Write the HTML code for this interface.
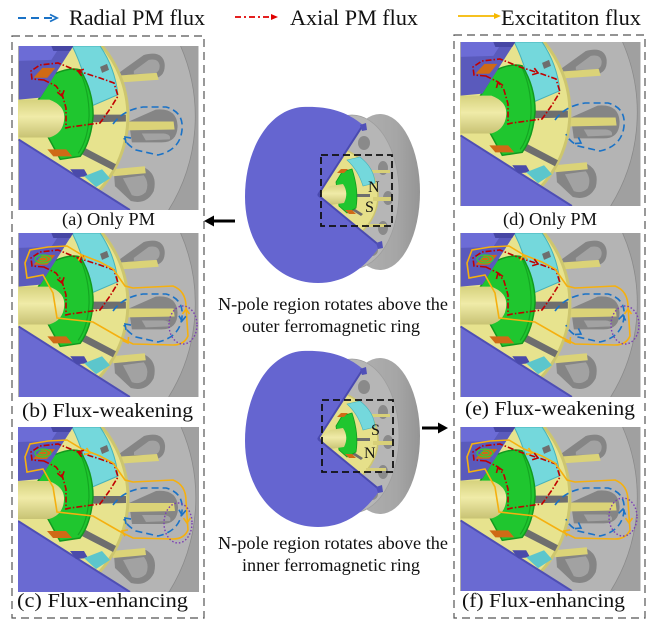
<!DOCTYPE html>
<html><head><meta charset="utf-8"><style>
html,body{margin:0;padding:0;background:#fff;}
svg{display:block;}
text{font-family:"Liberation Serif",serif;fill:#111;}
</style></head><body>
<svg width="652" height="624" viewBox="0 0 652 624" xmlns="http://www.w3.org/2000/svg" xmlns:xlink="http://www.w3.org/1999/xlink">
<defs>
<linearGradient id="shaftG" x1="0" y1="0" x2="0" y2="1">
 <stop offset="0" stop-color="#d6d27e"/><stop offset="0.45" stop-color="#f0eba8"/><stop offset="1" stop-color="#c8c374"/>
</linearGradient>
<linearGradient id="rimG" x1="0" y1="0" x2="1" y2="0">
 <stop offset="0" stop-color="#b4b4b4"/><stop offset="0.7" stop-color="#a6a6a6"/><stop offset="1" stop-color="#959595"/>
</linearGradient>
<symbol id="pnl" viewBox="0 0 181 165">
 <rect width="181" height="165" fill="#b4b4b4"/>
 <path d="M163,0 A178,178 0 0 1 151,165 L181,165 L181,0Z" fill="#a0a0a0"/>
 <path d="M163,0 A178,178 0 0 1 151,165" fill="none" stroke="#8a8a8a" stroke-width="0.8"/>
 <path d="M101,27 L126,9 Q145,4 147,18 Q148,32 134,33 L102,33Z" fill="#858585"/>
 <path d="M116,25 L131,14 Q141,12 142,20 Q142,28 133,28 L116,28Z" fill="#a2a2a2"/>
 <path d="M111,76 L138,64 Q159,62 160,80 Q160,97 144,97 L114,97Z" fill="#858585"/>
 <path d="M124,88 L146,88 Q154,89 152,94 L128,95Z" fill="#a2a2a2"/>
 <path d="M96,128 L128,123 Q140,130 136,146 Q129,160 113,156 L97,141Z" fill="#858585"/>
 <path d="M105,133 L126,130 Q132,138 128,147 Q122,153 114,150Z" fill="#a2a2a2"/>
 <polygon points="96,30 139,27 141,34 97,37" fill="#dbd378"/>
 <polygon points="106,76 156,76 157,84 106,85" fill="#dbd378"/>
 <polygon points="94,124 127,121 128,128 95,131" fill="#dbd378"/>
 <circle cx="0" cy="71" r="110" fill="#e7e38e" stroke="#cdc66e" stroke-width="3"/>
 <path d="M54,0 L82,0 Q97,22 100,49 L72,61 Q68,28 54,0Z" fill="#74d8dc" stroke="#46b2ba" stroke-width="1"/>
 <polygon points="64,69 108,69 108,76 64,77" fill="#6e6e6e"/>
 <polygon points="62,100 98,119 95,125 58,106" fill="#6e6e6e"/>
 <polygon points="54,42 62,37 65,42 57,47" fill="#6e6e6e"/>
 <polygon points="82,21 89,18 91,24 84,27" fill="#6e6e6e"/>
 <path d="M20,54 L36,28 Q52,21 62,24 Q75,45 75,70 Q73,96 62,111 L42,114 L30,92Z" fill="#1fc62f" stroke="#129a1e" stroke-width="1.5"/>
 <path d="M62,26 Q71,46 71,70 Q70,94 60,108" fill="none" stroke="#14a622" stroke-width="1.2"/>
 <path d="M0,54 L31,54 Q47,60 46,73 Q45,88 31,92 L0,92Z" fill="url(#shaftG)"/>
 <polygon points="0,0 55,0 22,52 0,54" fill="#5a5abc"/>
 <polygon points="0,0 42,0 33,14 0,15" fill="#6c6cd6"/>
 <polygon points="33,0 55,0 52,5 35,5" fill="#4646a4"/>
 <polygon points="0,94 112,165 0,165" fill="#6a6ad2"/>
 <path d="M0,94 L112,165" stroke="#4e4eb4" stroke-width="2"/>
 <polygon points="52,124 66,124 70,131 58,132" fill="#4a4aaa"/>
 <polygon points="66,131 84,124 92,133 78,142" fill="#5cc6cc"/>
 <polygon points="15,32 24,22 37,22 29,32" fill="#cf6a16"/>
 <polygon points="29,104 48,104 54,111 35,111" fill="#cf6a16"/>
</symbol>
<g id="rb">
 <path d="M26,34 L14,33 L13,25 L22,19 L40,17 L60,25 L82,32 L96,37 L100,50 L92,63 L82,77 L52,81 L48,82 L48,62 L44,48 L38,40 Z" fill="none" stroke="#c00000" stroke-width="1.6" stroke-dasharray="6,2,1.5,2"/>
 <path d="M95,78 Q105,64 125,61 L148,61 Q166,66 164,84 Q162,104 140,109 L118,104 Q108,98 106,92" fill="none" stroke="#1a72c6" stroke-width="1.6" stroke-dasharray="7,4"/>
</g>
<g id="or">
 <path d="M9,45 L7,30 L12,17 L30,14 L49,13 L64,22 L82,29 L95,36 L107,53 L115,55 L155,53 Q168,58 168,74 L170,103 Q166,112 155,112 L115,111 L101,104 L75,89 L39,85 L35,60 L25,42 Z" fill="none" stroke="#f5b00f" stroke-width="1.6"/>
 <ellipse cx="25" cy="26" rx="8" ry="4" fill="none" stroke="#2ccf3a" stroke-width="1.2"/>
 <ellipse cx="25" cy="26" rx="4" ry="2" fill="none" stroke="#2ccf3a" stroke-width="1"/>
</g>
<g id="motor">
 <ellipse cx="380" cy="192" rx="40" ry="78" fill="url(#rimG)"/>
 <ellipse cx="352" cy="192" rx="47" ry="77" fill="#b6b6b6" stroke="#9e9e9e" stroke-width="0.8"/>
 <ellipse cx="364" cy="143" rx="6" ry="7" fill="#8a8a8a"/>
 <ellipse cx="383" cy="168" rx="5" ry="7" fill="#8a8a8a"/>
 <ellipse cx="388" cy="198" rx="5" ry="7" fill="#8a8a8a"/>
 <ellipse cx="383" cy="228" rx="5" ry="7" fill="#8a8a8a"/>
 <ellipse cx="372" cy="250" rx="6" ry="6" fill="#8a8a8a"/>
 <ellipse cx="318" cy="196" rx="60" ry="52" fill="#e6e08a" stroke="#cdc66e" stroke-width="1.5"/>
 <rect x="370" y="170" width="20" height="3" fill="#d8d078"/>
 <rect x="373" y="197" width="20" height="4" fill="#d8d078"/>
 <rect x="366" y="224" width="20" height="3" fill="#d8d078"/>
 <path d="M347,160 L360,157 Q374,168 375,183 L363,186 Q358,170 347,160Z" fill="#74d8dc" stroke="#46b2ba" stroke-width="0.6"/>
 <polygon points="356,194 370,194 370,197 356,197" fill="#6e6e6e"/>
 <polygon points="352,207 363,214 361,216 350,209" fill="#6e6e6e"/>
 <path d="M336,182 L342,172 L352,169 Q359,190 356,208 L347,213 L339,206Z" fill="#1fc62f" stroke="#129a1e" stroke-width="0.8"/>
 <path d="M319,196 L330,186 L343,184 Q349,193 344,203 L330,205 Z" fill="url(#shaftG)"/>
 <circle cx="318" cy="196" r="2.5" fill="#6565d0" stroke="#3a3aa0" stroke-width="0.8"/>
 <polygon points="337,173 341,169 348,169 344,173" fill="#cf6a16"/>
 <polygon points="345,210 352,210 356,214 349,214" fill="#cf6a16"/>
 <path d="M318,195 L363,125 C345,110 325,106 302,107 C268,110 245,150 245,197 C245,245 275,283 318,283 C345,283 365,268 380,246 Z" fill="#6565d0"/>
 <path d="M318,195 L363,125" stroke="#4a4ab0" stroke-width="2"/>
 <path d="M318,195 L380,246" stroke="#4a4ab0" stroke-width="2"/>
 <polygon points="360,125 366,123 367,130 362,131" fill="#5050b8"/>
 <polygon points="376,243 382,241 383,248 378,249" fill="#5050b8"/>
</g>
</defs>

<!-- Legend -->
<line x1="18" y1="18" x2="52" y2="18" stroke="#1a72c6" stroke-width="2" stroke-dasharray="8,5"/>
<path d="M50,14.5 L57,18 L50,21.5" fill="none" stroke="#1a72c6" stroke-width="1.8"/>
<text x="69" y="25" font-size="22" textLength="136" lengthAdjust="spacingAndGlyphs">Radial PM flux</text>
<line x1="235" y1="17" x2="272" y2="17" stroke="#e00000" stroke-width="1.8" stroke-dasharray="6,3,2,3"/>
<polygon points="271,14 278,17 271,20" fill="#e00000"/>
<text x="290" y="25" font-size="22" textLength="128" lengthAdjust="spacingAndGlyphs">Axial PM flux</text>
<line x1="458" y1="16" x2="495" y2="16" stroke="#f5b800" stroke-width="1.8"/>
<polygon points="494,13 501,16 494,19" fill="#f5b800"/>
<text x="501" y="25" font-size="22" textLength="140" lengthAdjust="spacingAndGlyphs">Excitatiton flux</text>

<!-- Dashed boxes -->
<rect x="12" y="36" width="192" height="582" fill="none" stroke="#555" stroke-width="1.2" stroke-dasharray="8,5"/>
<rect x="454" y="35" width="191" height="583" fill="none" stroke="#555" stroke-width="1.2" stroke-dasharray="8,5"/>

<!-- Panel a -->
<use xlink:href="#pnl" href="#pnl" x="18" y="46" width="181" height="164"/>
<g transform="translate(18,46)">
 <use xlink:href="#rb" href="#rb"/>
 <g fill="none" stroke="#c00000" stroke-width="1.6">
  <path d="M-5,-3.5 L0,0 L-5,3.5" transform="translate(60,25) rotate(198)"/>
  <path d="M-5,-3.5 L0,0 L-5,3.5" transform="translate(44,50) rotate(75)"/>
 </g>
 <path d="M-5,-3.5 L0,0 L-5,3.5" transform="translate(107,91) rotate(225)" fill="none" stroke="#1a72c6" stroke-width="1.6"/>
</g>
<text x="62" y="225" font-size="18" textLength="93" lengthAdjust="spacingAndGlyphs">(a) Only PM</text>

<!-- Panel b -->
<use xlink:href="#pnl" href="#pnl" x="18" y="233" width="181" height="164"/>
<g transform="translate(18,233)">
 <use xlink:href="#rb" href="#rb"/>
 <use xlink:href="#or" href="#or"/>
 <ellipse cx="165" cy="92" rx="14" ry="19" fill="none" stroke="#7a3cb4" stroke-width="1.4" stroke-dasharray="1.5,2"/>
 <g fill="none" stroke="#c00000" stroke-width="1.6">
  <path d="M-5,-3.5 L0,0 L-5,3.5" transform="translate(60,25) rotate(198)"/>
  <path d="M-5,-3.5 L0,0 L-5,3.5" transform="translate(44,50) rotate(75)"/>
 </g>
 <g fill="none" stroke="#1a72c6" stroke-width="1.6">
  <path d="M-5,-3.5 L0,0 L-5,3.5" transform="translate(107,91) rotate(225)"/>
  <path d="M-5,-3.5 L0,0 L-5,3.5" transform="translate(164,88) rotate(95)"/>
 </g>
 <g fill="none" stroke="#f5b00f" stroke-width="1.6">
  <path d="M-5,-3.5 L0,0 L-5,3.5" transform="translate(63,22) rotate(-100)"/>
  <path d="M-5,-3.5 L0,0 L-5,3.5" transform="translate(110,110) rotate(60)"/>
  <path d="M-5,-3.5 L0,0 L-5,3.5" transform="translate(168,76) rotate(-90)"/>
 </g>
</g>
<text x="22" y="417" font-size="20" textLength="171" lengthAdjust="spacingAndGlyphs">(b) Flux-weakening</text>

<!-- Panel c -->
<use xlink:href="#pnl" href="#pnl" x="18" y="427" width="181" height="165"/>
<g transform="translate(18,427)">
 <use xlink:href="#rb" href="#rb"/>
 <use xlink:href="#or" href="#or"/>
 <ellipse cx="160" cy="96" rx="14" ry="20" fill="none" stroke="#7a3cb4" stroke-width="1.4" stroke-dasharray="1.5,2"/>
 <g fill="none" stroke="#c00000" stroke-width="1.6">
  <path d="M-5,-3.5 L0,0 L-5,3.5" transform="translate(60,25) rotate(198)"/>
  <path d="M-5,-3.5 L0,0 L-5,3.5" transform="translate(44,50) rotate(75)"/>
 </g>
 <g fill="none" stroke="#1a72c6" stroke-width="1.6">
  <path d="M-5,-3.5 L0,0 L-5,3.5" transform="translate(107,91) rotate(225)"/>
  <path d="M-5,-3.5 L0,0 L-5,3.5" transform="translate(164,88) rotate(95)"/>
 </g>
 <g fill="none" stroke="#f5b00f" stroke-width="1.6">
  <path d="M-5,-3.5 L0,0 L-5,3.5" transform="translate(72,26) rotate(20)"/>
  <path d="M-5,-3.5 L0,0 L-5,3.5" transform="translate(104,104) rotate(205)"/>
  <path d="M-5,-3.5 L0,0 L-5,3.5" transform="translate(169,96) rotate(90)"/>
 </g>
</g>
<text x="17" y="607" font-size="20" textLength="171" lengthAdjust="spacingAndGlyphs">(c)  Flux-enhancing</text>

<!-- Panel d -->
<use xlink:href="#pnl" href="#pnl" x="460" y="42" width="181" height="164"/>
<g transform="translate(460,42)">
 <use xlink:href="#rb" href="#rb"/>
 <g fill="none" stroke="#c00000" stroke-width="1.6">
  <path d="M-5,-3.5 L0,0 L-5,3.5" transform="translate(78,31) rotate(18)"/>
  <path d="M-5,-3.5 L0,0 L-5,3.5" transform="translate(38,40) rotate(-110)"/>
 </g>
 <path d="M-5,-3.5 L0,0 L-5,3.5" transform="translate(121,101) rotate(30)" fill="none" stroke="#1a72c6" stroke-width="1.6"/>
</g>
<text x="503" y="225" font-size="18" textLength="94" lengthAdjust="spacingAndGlyphs">(d) Only PM</text>

<!-- Panel e -->
<use xlink:href="#pnl" href="#pnl" x="460" y="233" width="181" height="164"/>
<g transform="translate(460,233)">
 <use xlink:href="#rb" href="#rb"/>
 <use xlink:href="#or" href="#or"/>
 <ellipse cx="165" cy="92" rx="14" ry="19" fill="none" stroke="#7a3cb4" stroke-width="1.4" stroke-dasharray="1.5,2"/>
 <g fill="none" stroke="#c00000" stroke-width="1.6">
  <path d="M-5,-3.5 L0,0 L-5,3.5" transform="translate(78,31) rotate(18)"/>
  <path d="M-5,-3.5 L0,0 L-5,3.5" transform="translate(38,40) rotate(-110)"/>
 </g>
 <g fill="none" stroke="#1a72c6" stroke-width="1.6">
  <path d="M-5,-3.5 L0,0 L-5,3.5" transform="translate(121,101) rotate(30)"/>
  <path d="M-5,-3.5 L0,0 L-5,3.5" transform="translate(163,82) rotate(-80)"/>
 </g>
 <g fill="none" stroke="#f5b00f" stroke-width="1.6">
  <path d="M-5,-3.5 L0,0 L-5,3.5" transform="translate(63,22) rotate(-100)"/>
  <path d="M-5,-3.5 L0,0 L-5,3.5" transform="translate(110,110) rotate(60)"/>
  <path d="M-5,-3.5 L0,0 L-5,3.5" transform="translate(168,76) rotate(-90)"/>
 </g>
</g>
<text x="465" y="415" font-size="20" textLength="170" lengthAdjust="spacingAndGlyphs">(e) Flux-weakening</text>

<!-- Panel f -->
<use xlink:href="#pnl" href="#pnl" x="460" y="427" width="181" height="164"/>
<g transform="translate(460,427)">
 <use xlink:href="#rb" href="#rb"/>
 <use xlink:href="#or" href="#or"/>
 <ellipse cx="163" cy="90" rx="14" ry="19" fill="none" stroke="#7a3cb4" stroke-width="1.4" stroke-dasharray="1.5,2"/>
 <g fill="none" stroke="#c00000" stroke-width="1.6">
  <path d="M-5,-3.5 L0,0 L-5,3.5" transform="translate(78,31) rotate(18)"/>
  <path d="M-5,-3.5 L0,0 L-5,3.5" transform="translate(38,40) rotate(-110)"/>
 </g>
 <g fill="none" stroke="#1a72c6" stroke-width="1.6">
  <path d="M-5,-3.5 L0,0 L-5,3.5" transform="translate(121,101) rotate(30)"/>
  <path d="M-5,-3.5 L0,0 L-5,3.5" transform="translate(163,82) rotate(-80)"/>
 </g>
 <g fill="none" stroke="#f5b00f" stroke-width="1.6">
  <path d="M-5,-3.5 L0,0 L-5,3.5" transform="translate(72,26) rotate(20)"/>
  <path d="M-5,-3.5 L0,0 L-5,3.5" transform="translate(104,104) rotate(205)"/>
  <path d="M-5,-3.5 L0,0 L-5,3.5" transform="translate(169,96) rotate(90)"/>
 </g>
</g>
<text x="462" y="607" font-size="20" textLength="163" lengthAdjust="spacingAndGlyphs">(f) Flux-enhancing</text>

<!-- Center motors -->
<use xlink:href="#motor" href="#motor"/>
<rect x="321" y="155" width="71" height="71" fill="none" stroke="#111" stroke-width="1.8" stroke-dasharray="7,4"/>
<text x="368" y="192" font-size="16">N</text>
<text x="365" y="212" font-size="16">S</text>
<line x1="235" y1="221" x2="212" y2="221" stroke="#000" stroke-width="3"/>
<polygon points="204,221 214,215.5 214,226.5" fill="#000"/>
<text x="218" y="310" font-size="18" textLength="230" lengthAdjust="spacingAndGlyphs">N-pole region rotates above the</text>
<text x="242" y="332" font-size="18" textLength="178" lengthAdjust="spacingAndGlyphs">outer ferromagnetic ring</text>

<use xlink:href="#motor" href="#motor" y="244"/>
<rect x="322" y="400" width="71" height="72" fill="none" stroke="#111" stroke-width="1.8" stroke-dasharray="7,4"/>
<text x="371" y="435" font-size="16">S</text>
<text x="364" y="458" font-size="16">N</text>
<line x1="422" y1="428" x2="440" y2="428" stroke="#000" stroke-width="3"/>
<polygon points="448,428 438,422.5 438,433.5" fill="#000"/>
<text x="218" y="549" font-size="18" textLength="230" lengthAdjust="spacingAndGlyphs">N-pole region rotates above the</text>
<text x="242" y="571" font-size="18" textLength="178" lengthAdjust="spacingAndGlyphs">inner ferromagnetic ring</text>
</svg>
</body></html>
